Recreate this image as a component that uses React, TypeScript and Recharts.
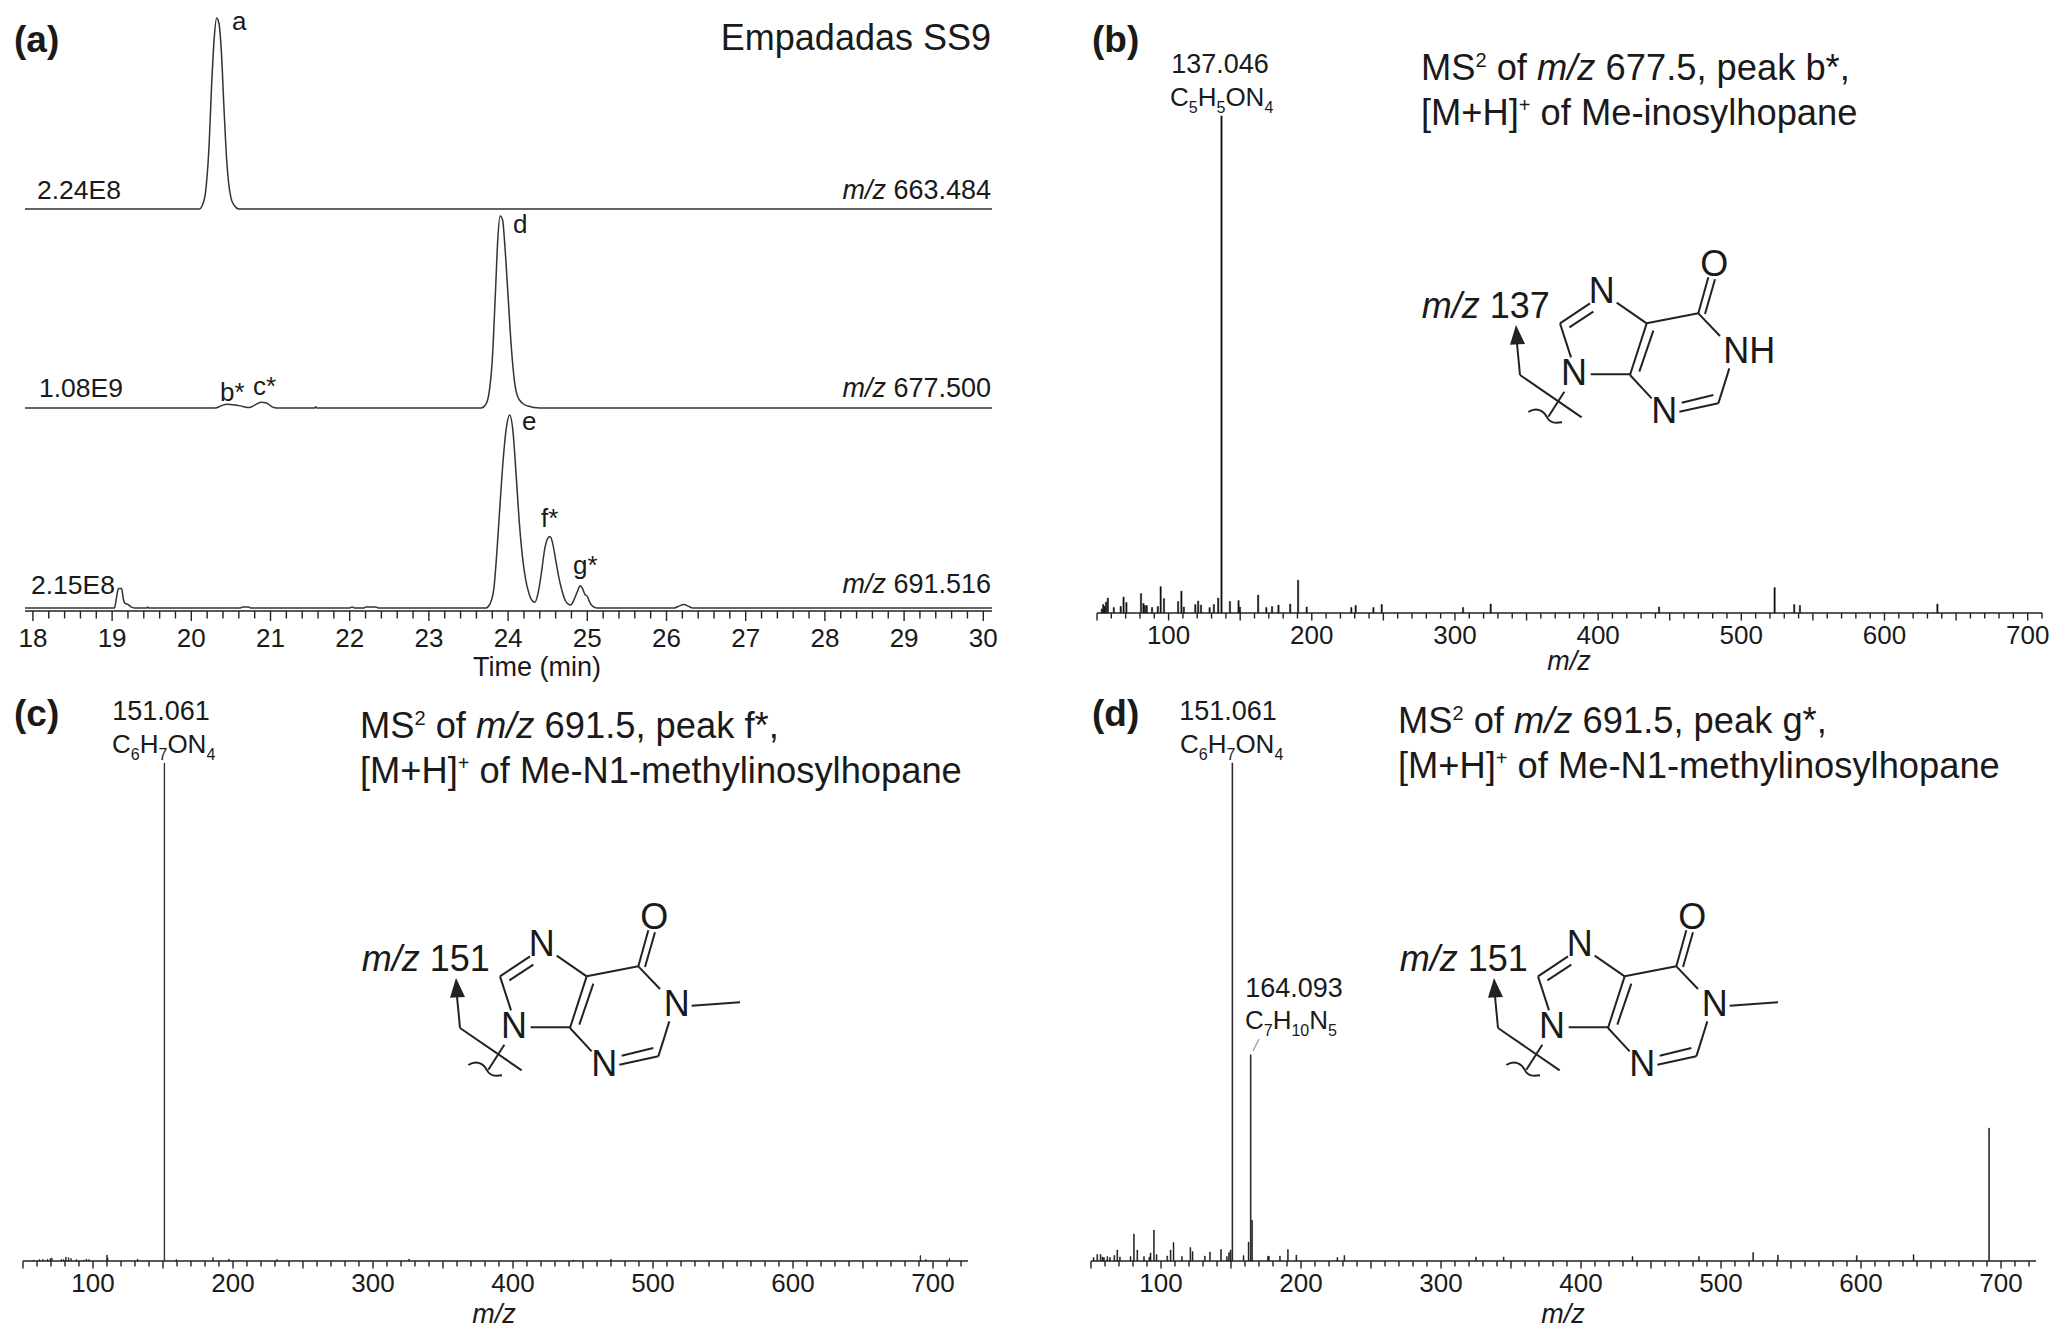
import React from 'react';
import { LineChart, Line, BarChart, Bar, XAxis, YAxis } from 'recharts';

// chromatograms, relative intensity per trace
const timeA = [17.9, 20.1, 20.14, 20.18, 20.22, 20.26, 20.29, 20.32, 20.35, 20.38, 20.41, 20.44, 20.47, 20.5, 20.54, 20.6, 30.11];
const valueA = [0, 0, 2, 9, 30, 68, 90, 100, 97, 82, 55, 30, 14, 6, 2, 0, 0];

const timeB = [17.9, 20.3, 20.38, 20.45, 20.55, 20.65, 20.73, 20.8, 20.88, 20.95, 21.02, 21.08, 21.56, 21.57, 21.58, 23.66, 23.72, 23.76, 23.8, 23.84, 23.87, 23.9, 23.93, 23.96, 24, 24.04, 24.08, 24.12, 24.18, 24.25, 24.4, 30.11];
const valueB = [0, 0, 1.2, 2, 1.6, 0.8, 0.2, 1.5, 3, 2.6, 0.6, 0, 0, 0.7, 0, 0, 2, 8, 25, 60, 88, 100, 98, 84, 58, 32, 14, 6, 2.5, 1, 0, 0];

const timeC = [17.9, 19.03, 19.05, 19.08, 19.12, 19.14, 19.16, 19.2, 19.24, 19.28, 19.44, 19.45, 19.46, 20.62, 20.65, 20.72, 20.75, 22, 22.03, 22.06, 22.18, 22.2, 22.33, 22.36, 23.72, 23.77, 23.82, 23.86, 23.9, 23.94, 23.98, 24.02, 24.06, 24.1, 24.14, 24.18, 24.22, 24.26, 24.3, 24.34, 24.38, 24.42, 24.46, 24.5, 24.53, 24.56, 24.6, 24.64, 24.68, 24.72, 24.76, 24.79, 24.83, 24.87, 24.91, 24.94, 24.97, 25, 25.03, 25.07, 25.12, 26.1, 26.15, 26.22, 26.28, 26.33, 30.11];
const valueC = [0, 0, 4, 10, 10, 5, 2.5, 1.8, 0.5, 0, 0, 0.5, 0, 0, 0.5, 0.5, 0, 0, 0.5, 0, 0, 0.5, 0.5, 0, 0, 2, 10, 30, 55, 78, 94, 100, 92, 70, 45, 27, 15, 8, 4, 3, 8, 18, 30, 36, 37, 34, 25, 16, 9, 4, 2, 1.5, 4, 8, 11.5, 10, 7, 6, 3, 0.8, 0, 0, 0.8, 1.8, 0.8, 0, 0];

// MS2 spectra
const mzB = [53.4, 54.4, 55.4, 56.4, 57.6, 61.8, 66.6, 68.6, 70.6, 80.8, 82.5, 83.5, 84.8, 88.5, 92.5, 94.5, 96.8, 106.7, 109, 110.7, 118.7, 120.7, 122.7, 128.7, 131.7, 134.7, 137, 142.9, 148.9, 149.9, 162.6, 168.3, 172.3, 176.8, 185, 190.5, 196.5, 227.7, 230.7, 243.1, 248.9, 305.7, 325, 442.6, 523.3, 537, 541, 637];
const intB = [0.8, 1.7, 1.3, 2.2, 3, 1.1, 1.3, 3.2, 2.1, 3.9, 1.9, 1.5, 1.5, 1.1, 1.3, 5.3, 2.9, 2.3, 4.4, 1.2, 1.7, 2.4, 1.6, 1.1, 1.7, 3, 100, 2.3, 2.5, 1.2, 3.6, 1.1, 1.3, 1.6, 1.8, 6.6, 1.2, 1.1, 1.5, 1.1, 1.7, 1.1, 1.8, 1.2, 5.1, 1.7, 1.5, 1.8];

const mzC = [57.6, 61.9, 64.3, 67.6, 69.5, 70.7, 77.4, 79, 80.7, 82.6, 84.3, 88.1, 93.3, 95.2, 97.1, 110, 110.5, 131.9, 151, 159.5, 185.7, 197.1, 231.4, 325.7, 443, 470, 691, 695, 711.7];
const intC = [0.2, 0.3, 0.3, 0.35, 0.5, 0.6, 0.3, 0.3, 0.8, 0.7, 0.5, 0.3, 0.2, 0.4, 0.3, 1.2, 0.7, 0.4, 100, 0.3, 0.7, 0.4, 0.3, 0.4, 0.2, 0.35, 1.1, 0.3, 0.5];

const mzD = [51.9, 54.5, 56.9, 58.3, 59.3, 61.7, 63.6, 66.7, 68.8, 70.7, 78.3, 80.7, 83.1, 87.9, 91.7, 92.6, 95, 96.9, 104.5, 106.9, 109, 115, 121, 122.6, 131.4, 135, 142.9, 147.1, 148.6, 149.8, 151, 159, 162.6, 164.1, 165.1, 176.4, 177.1, 185, 190.7, 196.7, 226, 231, 325, 344.8, 436.8, 484.3, 523, 540.7, 597, 637.6, 691.5];
const intD = [0.7, 1.3, 1.3, 0.8, 0.7, 0.9, 0.7, 1.1, 2.2, 0.8, 0.9, 5.4, 2.2, 0.9, 0.8, 1.6, 6.2, 1.3, 1, 2.2, 3.7, 0.9, 2.7, 1.9, 1, 1.8, 2.3, 0.9, 1.7, 2.2, 100, 1.1, 3.8, 41.4, 8.2, 0.9, 1, 1, 2.3, 1.2, 0.7, 1.1, 0.8, 0.8, 0.9, 0.9, 1.7, 1.2, 1.1, 1.3, 26.7];

const minorTime = [18.2, 18.4, 18.6, 18.8, 19.2, 19.4, 19.6, 19.8, 20.2, 20.4, 20.6, 20.8, 21.2, 21.4, 21.6, 21.8, 22.2, 22.4, 22.6, 22.8, 23.2, 23.4, 23.6, 23.8, 24.2, 24.4, 24.6, 24.8, 25.2, 25.4, 25.6, 25.8, 26.2, 26.4, 26.6, 26.8, 27.2, 27.4, 27.6, 27.8, 28.2, 28.4, 28.6, 28.8, 29.2, 29.4, 29.6, 29.8];
const labelTime = [18, 19, 20, 21, 22, 23, 24, 25, 26, 27, 28, 29, 30];
const timeTicks = [...labelTime, ...minorTime].sort((a, b) => a - b);

const mzTicks = (max: number) => {
  const out: number[] = [];
  for (let v = 50; v <= max; v += 10) out.push(v);
  return out;
};

const INK = '#222';
const FONT = '"Liberation Sans", Arial, sans-serif';

const table = (xs: number[], ys: number[]) => xs.map((x, i) => ({ x, y: ys[i] }));

const makeTick = (isLabel: (v: number) => boolean, isLong: (v: number) => boolean, long: number, short: number, labelDy: number) => (props: any) => {
  const { x, y, payload } = props;
  const v = payload.value;
  return (
    <g>
      <line x1={x} y1={y} x2={x} y2={y + (isLong(v) ? long : short)} stroke={INK} strokeWidth={1.4} />
      {isLabel(v) && (
        <text x={x} y={y + labelDy} textAnchor="middle" fontSize={26} fontFamily={FONT} fill="#1a1a1a">
          {v}
        </text>
      )}
    </g>
  );
};

const timeTick = makeTick((v) => Number.isInteger(v), (v) => Number.isInteger(v), 10, 7.5, 36);
const mzTick = makeTick((v) => v % 100 === 0, (v) => v % 50 === 0, 7.5, 5.5, 31);

interface TraceProps {
  times: number[];
  values: number[];
  top: number;
  baseline: number;
  withAxis?: boolean;
}

const LEFT_A = 25;
const WIDTH_A = 967;

const Trace = ({ times, values, top, baseline, withAxis }: TraceProps) => {
  const pad = 3;
  const plot = baseline - top;
  return (
    <div style={{ position: 'absolute', left: LEFT_A - 15, top: top - pad }}>
      <LineChart
        width={WIDTH_A + 40}
        height={plot + pad + (withAxis ? 50 : pad)}
        data={table(times, values)}
        margin={{ top: pad, right: 25, left: 15, bottom: withAxis ? 0 : pad }}
      >
        <XAxis
          dataKey="x"
          type="number"
          domain={[17.9, 30.11]}
          hide={!withAxis}
          ticks={timeTicks}
          interval={0}
          height={50}
          tickLine={false}
          tickSize={0}
          tickMargin={0}
          axisLine={{ stroke: INK, strokeWidth: 1.5 }}
          tick={timeTick}
        />
        <YAxis hide domain={withAxis ? [-1.6, 100] : [0, 100]} />
        <Line type="monotone" dataKey="y" stroke="#333" strokeWidth={1.5} dot={false} isAnimationActive={false} />
      </LineChart>
    </div>
  );
};

interface SpectrumProps {
  mz: number[];
  intensity: number[];
  left: number;
  right: number;
  top: number;
  axisY: number;
  maxMz: number;
}

const Spectrum = ({ mz, intensity, left, right, top, axisY, maxMz }: SpectrumProps) => {
  const pad = 3;
  return (
    <div style={{ position: 'absolute', left: left - 15, top: top - pad }}>
      <BarChart
        width={right - left + 40}
        height={axisY - top + pad + 45}
        data={table(mz, intensity)}
        margin={{ top: pad, right: 25, left: 15, bottom: 0 }}
        barSize={2}
      >
        <XAxis
          dataKey="x"
          type="number"
          domain={[50, maxMz]}
          ticks={mzTicks(maxMz)}
          interval={0}
          height={45}
          tickLine={false}
          tickSize={0}
          tickMargin={0}
          axisLine={{ stroke: INK, strokeWidth: 1.5 }}
          tick={mzTick}
        />
        <YAxis hide domain={[0, 100]} />
        <Bar dataKey="y" fill="#111" stroke="#111" strokeWidth={0.5} isAnimationActive={false} />
      </BarChart>
    </div>
  );
};

const T = ({ x, y, size = 27, anchor, children, weight }: any) => (
  <text x={x} y={y} fontSize={size} textAnchor={anchor} fontWeight={weight} fontFamily={FONT} fill="#1a1a1a">
    {children}
  </text>
);

const I = ({ children }: any) => <tspan fontStyle="italic">{children}</tspan>;

// formula with subscripts: odd entries are subscripted
const Formula = ({ x, y, parts }: { x: number; y: number; parts: string[] }) => (
  <T x={x} y={y} size={26}>
    {parts.map((p, i) =>
      i % 2 === 1 ? (
        <tspan key={i} fontSize={16} dy={7}>{p}</tspan>
      ) : (
        <tspan key={i} dy={i === 0 ? 0 : -7}>{p}</tspan>
      )
    )}
  </T>
);

const MsCaption = ({ x, y, parent, peak, name }: { x: number; y: number; parent: string; peak: string; name: string }) => (
  <>
    <T x={x} y={y} size={36.3}>
      MS<tspan fontSize={20} dy={-13}>2</tspan>
      <tspan dy={13}> of </tspan>
      <I>m/z</I> {parent}, peak {peak},
    </T>
    <T x={x} y={y + 45} size={36.3}>
      [M+H]<tspan fontSize={20} dy={-13}>+</tspan>
      <tspan dy={13}> of {name}</tspan>
    </T>
  </>
);

// purine fragment, drawn at 3x and scaled down
const bonds = [
  [540, 250, 630, 190], [568, 262, 640, 215], [540, 250, 573, 352], [632, 403, 750, 403],
  [710, 188, 800, 250], [800, 250, 750, 405], [820, 272, 778, 395], [800, 250, 955, 220],
  [955, 220, 1020, 288], [955, 220, 985, 112], [975, 222, 1005, 118], [1048, 385, 1015, 490],
  [1015, 490, 898, 515], [1000, 465, 905, 488], [750, 405, 815, 475], [553, 455, 505, 530],
  [420, 405, 605, 532], [420, 405, 410, 300],
];

const Purine = ({ x, y, label, methyl }: { x: number; y: number; label: string; methyl?: boolean }) => {
  const atom = (ax: number, ay: number, s: string) => (
    <text x={ax} y={ay} fontSize={108} textAnchor="middle" fontFamily={FONT} fill="#1a1a1a">{s}</text>
  );
  return (
    <g transform={`translate(${x} ${y}) scale(${1 / 3})`}>
      {bonds.map((b, i) => (
        <line key={i} x1={b[0]} y1={b[1]} x2={b[2]} y2={b[3]} stroke={INK} strokeWidth={6} />
      ))}
      <path d="M445 516 C470 500 490 512 500 530 C510 550 525 550 546 547" fill="none" stroke={INK} strokeWidth={6} />
      <path d="M408 255 L435 312 L390 314 Z" fill={INK} />
      {atom(665, 188, 'N')}
      {atom(582, 436, 'N')}
      {atom(853, 548, 'N')}
      {atom(1003, 108, 'O')}
      {methyl ? atom(1070, 368, 'N') : atom(1108, 368, 'NH')}
      {methyl && <line x1={1115} y1={338} x2={1260} y2={328} stroke={INK} strokeWidth={6} />}
      <text x={125} y={234} fontSize={108} fontFamily={FONT} fill="#1a1a1a">
        <tspan fontStyle="italic">m/z</tspan> {label}
      </text>
    </g>
  );
};

const App = () => (
  <div style={{ position: 'absolute', left: 0, top: 0, width: 2067, height: 1341, background: '#fff', overflow: 'hidden' }}>
    <Trace times={timeA} values={valueA} top={18} baseline={209} />
    <Trace times={timeB} values={valueB} top={216} baseline={408} />
    <Trace times={timeC} values={valueC} top={415} baseline={611} withAxis />

    <Spectrum mz={mzB} intensity={intB} left={1097} right={2042} top={116} axisY={613} maxMz={710} />
    <Spectrum mz={mzC} intensity={intC} left={23} right={968} top={763} axisY={1261} maxMz={725} />
    <Spectrum mz={mzD} intensity={intD} left={1091} right={2036} top={763} axisY={1261} maxMz={725} />

    <svg width={2067} height={1341} style={{ position: 'absolute', left: 0, top: 0, pointerEvents: 'none' }}>
      <T x={14} y={52} size={37} weight="bold">(a)</T>
      <T x={1092} y={52} size={37} weight="bold">(b)</T>
      <T x={14} y={726} size={37} weight="bold">(c)</T>
      <T x={1092} y={726} size={37} weight="bold">(d)</T>

      <T x={991} y={50} size={36} anchor="end">Empadadas SS9</T>
      <T x={232} y={30} size={26}>a</T>
      <T x={513} y={233} size={26}>d</T>
      <T x={220} y={401} size={26}>b*</T>
      <T x={253} y={395} size={26}>c*</T>
      <T x={522} y={430} size={26}>e</T>
      <T x={541} y={527} size={26}>f*</T>
      <T x={573} y={574} size={26}>g*</T>

      <T x={37} y={199} size={26.5}>2.24E8</T>
      <T x={39} y={397} size={26.5}>1.08E9</T>
      <T x={31} y={594} size={26.5}>2.15E8</T>
      <T x={991} y={199} anchor="end"><I>m/z</I> 663.484</T>
      <T x={991} y={397} anchor="end"><I>m/z</I> 677.500</T>
      <T x={991} y={593} anchor="end"><I>m/z</I> 691.516</T>
      <T x={537} y={676} anchor="middle">Time (min)</T>

      <T x={1220} y={73} anchor="middle">137.046</T>
      <Formula x={1170} y={106} parts={['C', '5', 'H', '5', 'ON', '4']} />
      <T x={161} y={720} anchor="middle">151.061</T>
      <Formula x={112} y={753} parts={['C', '6', 'H', '7', 'ON', '4']} />
      <T x={1228} y={720} anchor="middle">151.061</T>
      <Formula x={1180} y={753} parts={['C', '6', 'H', '7', 'ON', '4']} />
      <T x={1294} y={997} anchor="middle">164.093</T>
      <Formula x={1245} y={1029} parts={['C', '7', 'H', '10', 'N', '5']} />
      <line x1={1259} y1={1039} x2={1253} y2={1051} stroke="#999" strokeWidth={1.2} />

      <MsCaption x={1421} y={80} parent="677.5" peak="b*" name="Me-inosylhopane" />
      <MsCaption x={360} y={738} parent="691.5" peak="f*" name="Me-N1-methylinosylhopane" />
      <MsCaption x={1398} y={733} parent="691.5" peak="g*" name="Me-N1-methylinosylhopane" />

      <Purine x={1380} y={240} label="137" />
      <Purine x={320} y={893} label="151" methyl />
      <Purine x={1358} y={893} label="151" methyl />

      <T x={1569} y={670} anchor="middle"><I>m/z</I></T>
      <T x={494} y={1323} anchor="middle"><I>m/z</I></T>
      <T x={1563} y={1323} anchor="middle"><I>m/z</I></T>
    </svg>
  </div>
);

export default App;
